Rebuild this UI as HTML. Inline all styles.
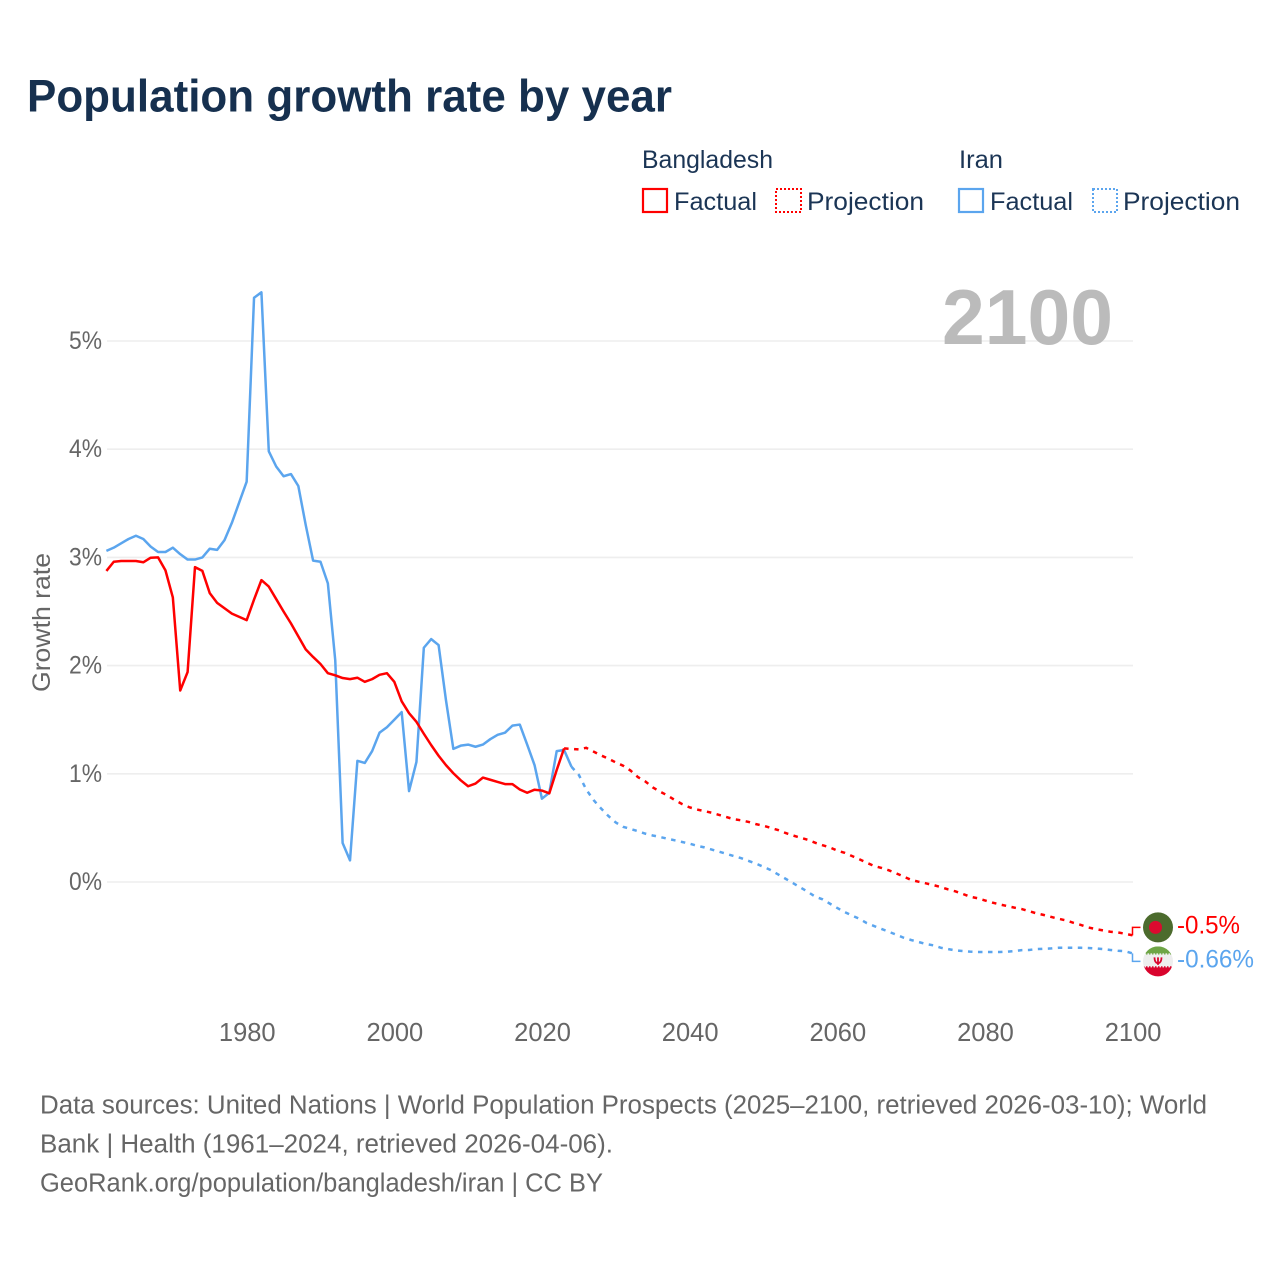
<!DOCTYPE html>
<html lang="en">
<head>
<meta charset="utf-8">
<title>Population growth rate by year</title>
<style>
html,body{margin:0;padding:0;background:#fff;}
svg{display:block;font-family:"Liberation Sans",Arial,sans-serif;}
</style>
</head>
<body>
<svg id="chart" xmlns="http://www.w3.org/2000/svg" width="1280" height="1280" viewBox="0 0 1280 1280">
  <rect x="0" y="0" width="1280" height="1280" fill="#ffffff"/>
  <text x="27" y="111.5" font-size="45" font-weight="bold" fill="#16304f" textLength="645" lengthAdjust="spacingAndGlyphs">Population growth rate by year</text>

  <g font-size="25" fill="#1b3555">
    <text x="642" y="168" textLength="131" lengthAdjust="spacingAndGlyphs">Bangladesh</text>
    <text x="959" y="168" textLength="44" lengthAdjust="spacingAndGlyphs">Iran</text>
    <g>
      <rect x="643" y="189" width="24" height="23" fill="none" stroke="#ff0000" stroke-width="2.2"/>
      <text x="674" y="210" textLength="83" lengthAdjust="spacingAndGlyphs">Factual</text>
    </g>
    <g>
      <rect x="776" y="189" width="25" height="23" fill="none" stroke="#ff0000" stroke-width="2" stroke-dasharray="2 2"/>
      <text x="807" y="210" textLength="117" lengthAdjust="spacingAndGlyphs">Projection</text>
    </g>
    <g>
      <rect x="959" y="189" width="24" height="23" fill="none" stroke="#5ba5ee" stroke-width="2.2"/>
      <text x="990" y="210" textLength="83" lengthAdjust="spacingAndGlyphs">Factual</text>
    </g>
    <g>
      <rect x="1093" y="189" width="24" height="23" fill="none" stroke="#5ba5ee" stroke-width="2" stroke-dasharray="2 2"/>
      <text x="1123" y="210" textLength="117" lengthAdjust="spacingAndGlyphs">Projection</text>
    </g>
  </g>

  <g id="grid"></g>
  <g id="yticks"></g>
  <g id="xticks"></g>
  <text transform="translate(50,692) rotate(-90)" font-size="25" fill="#666666" textLength="139" lengthAdjust="spacingAndGlyphs">Growth rate</text>
  <text x="942" y="344" font-size="78" font-weight="bold" fill="#bbbbbb" textLength="171" lengthAdjust="spacingAndGlyphs">2100</text>

  <g id="series"></g>

  <defs>
    <clipPath id="flag-clip"><circle cx="0" cy="0" r="15"/></clipPath>
  </defs>
  <g id="flag-bd">
    <circle r="15" fill="#4c6b2d"/>
    <circle cx="-2.5" cy="0" r="6.5" fill="#dc0a2f"/>
  </g>
  <g id="flag-ir" clip-path="url(#flag-clip)">
    <rect x="-15" y="-15" width="30" height="7" fill="#6ea546"/>
    <rect x="-15" y="-8" width="30" height="14" fill="#eeeeee"/>
    <rect x="-15" y="6" width="30" height="10" fill="#d9042d"/>
    <line x1="-15" x2="15" y1="-7.5" y2="-7.5" stroke="#6ea546" stroke-width="1.2" stroke-dasharray="1.5 1.5"/>
    <line x1="-15" x2="15" y1="5.5" y2="5.5" stroke="#d9042d" stroke-width="1.2" stroke-dasharray="1.5 1.5"/>
    <path d="M-3.5 -4 Q-3.5 1.5 0 2 Q3.5 1.5 3.5 -4 M0 -4 V3.5" fill="none" stroke="#d9042d" stroke-width="1.8"/>
  </g>
  <g id="endlabels"></g>

  <g font-size="25.5" fill="#666666">
    <text x="40" y="1113.5" textLength="1167" lengthAdjust="spacingAndGlyphs">Data sources: United Nations | World Population Prospects (2025–2100, retrieved 2026-03-10); World</text>
    <text x="40" y="1152.5" textLength="573" lengthAdjust="spacingAndGlyphs">Bank | Health (1961–2024, retrieved 2026-04-06).</text>
    <text x="40" y="1191.5" textLength="563" lengthAdjust="spacingAndGlyphs">GeoRank.org/population/bangladesh/iran | CC BY</text>
  </g>
</svg>
<script>
const yTickValues = [0, 1, 2, 3, 4, 5];
const yTickLabels = ["0%", "1%", "2%", "3%", "4%", "5%"];
const xTickValues = [1980, 2000, 2020, 2040, 2060, 2080, 2100];
const xTickLabels = ["1980", "2000", "2020", "2040", "2060", "2080", "2100"];
const endValueLabels = ["-0.5%", "-0.66%"];

const factualStartYear = 1961;
const bangladeshProjectionStartYear = 2023;
const iranProjectionStartYear = 2024;

const bangladeshFactual = [
  2.875,2.96,2.967,2.967,2.967,2.955,2.997,3.0,2.88,2.63,
  1.77,1.94,2.91,2.875,2.67,2.58,2.53,2.48,2.45,2.42,
  2.61,2.79,2.73,2.615,2.50,2.39,2.27,2.15,2.08,2.015,
  1.93,1.91,1.885,1.875,1.888,1.85,1.875,1.915,1.93,1.85,
  1.67,1.56,1.48,1.37,1.265,1.167,1.08,1.005,0.94,0.885,
  0.91,0.965,0.945,0.925,0.905,0.905,0.855,0.825,0.853,0.845,
  0.82,1.035,1.235
];
const iranFactual = [
  3.06,3.09,3.13,3.17,3.20,3.17,3.10,3.05,3.05,3.09,
  3.03,2.98,2.98,3.0,3.08,3.07,3.16,3.32,3.51,3.70,
  5.40,5.45,3.98,3.84,3.75,3.77,3.66,3.30,2.97,2.96,
  2.76,2.05,0.36,0.20,1.12,1.10,1.21,1.38,1.43,1.50,
  1.57,0.84,1.11,2.165,2.245,2.19,1.68,1.23,1.26,1.27,
  1.25,1.27,1.32,1.36,1.38,1.445,1.455,1.27,1.08,0.77,
  0.825,1.21,1.22,1.065
];
const bangladeshProjection = [
  1.235,1.23,1.225,1.24,1.205,1.17,1.14,1.105,1.075,1.03,
  0.97,0.93,0.875,0.835,0.80,0.757,0.72,0.69,0.67,0.655,
  0.64,0.62,0.60,0.58,0.57,0.555,0.535,0.52,0.50,0.48,
  0.453,0.43,0.41,0.39,0.363,0.34,0.32,0.29,0.27,0.24,
  0.21,0.178,0.148,0.13,0.108,0.08,0.05,0.02,0.003,-0.012,
  -0.028,-0.046,-0.068,-0.086,-0.11,-0.136,-0.15,-0.17,-0.19,-0.207,
  -0.222,-0.237,-0.25,-0.27,-0.29,-0.305,-0.323,-0.34,-0.355,-0.377,
  -0.397,-0.42,-0.435,-0.447,-0.46,-0.466,-0.478,-0.493
];
const iranProjection = [
  1.065,0.99,0.855,0.757,0.68,0.61,0.55,0.51,0.49,0.47,
  0.447,0.43,0.416,0.40,0.385,0.37,0.354,0.335,0.32,0.30,
  0.28,0.26,0.24,0.22,0.195,0.17,0.14,0.11,0.07,0.03,
  -0.01,-0.05,-0.09,-0.135,-0.16,-0.2,-0.24,-0.277,-0.31,-0.34,
  -0.38,-0.407,-0.434,-0.46,-0.487,-0.515,-0.536,-0.554,-0.573,-0.585,
  -0.607,-0.62,-0.632,-0.638,-0.644,-0.647,-0.647,-0.647,-0.647,-0.644,
  -0.638,-0.63,-0.628,-0.62,-0.617,-0.614,-0.608,-0.608,-0.608,-0.608,
  -0.61,-0.614,-0.62,-0.628,-0.635,-0.64,-0.66
];

const SVG_NS = "http://www.w3.org/2000/svg";
const RED = "#ff0000";
const BLUE = "#5ba5ee";
function xScale(year) { return 106.4 + (year - 1961) * 7.382; }
function yScale(value) { return 882 - value * 108.2; }
function make(tag, attrs, parent) {
  const el = document.createElementNS(SVG_NS, tag);
  for (const k in attrs) el.setAttribute(k, attrs[k]);
  parent.appendChild(el);
  return el;
}
function pathFor(values, startYear) {
  return values.map(function (v, i) {
    return (i ? "L" : "M") + xScale(startYear + i).toFixed(2) + " " + yScale(v).toFixed(2);
  }).join(" ");
}

const gridG = document.getElementById("grid");
const yTickG = document.getElementById("yticks");
yTickValues.forEach(function (v, i) {
  const line = make("line", { x1: 107, x2: 1133, y1: yScale(v), y2: yScale(v), stroke: "#eeeeee", "stroke-width": 1.6 }, gridG);
  
  
  const t = make("text", { x: 69, y: yScale(v) + 8, "font-size": 25, fill: "#666666", textLength: 33, lengthAdjust: "spacingAndGlyphs" }, yTickG);
  t.textContent = yTickLabels[i];
  
  
});

const xTickG = document.getElementById("xticks");
xTickValues.forEach(function (v, i) {
  const t = make("text", { x: xScale(v) + 0.6, y: 1041, "text-anchor": "middle", "font-size": 25.5, fill: "#666666" }, xTickG);
  t.textContent = xTickLabels[i];
  
  
});

const seriesG = document.getElementById("series");

const iranFactualLine = make("path", { d: pathFor(iranFactual, factualStartYear), fill: "none", stroke: BLUE, "stroke-width": 2.5, "stroke-linejoin": "round" }, seriesG);



const iranProjectionLine = make("path", { d: pathFor(iranProjection, iranProjectionStartYear), fill: "none", stroke: BLUE, "stroke-width": 2.5, "stroke-dasharray": "4.5 5.5" }, seriesG);



const bangladeshFactualLine = make("path", { d: pathFor(bangladeshFactual, factualStartYear), fill: "none", stroke: RED, "stroke-width": 2.5, "stroke-linejoin": "round" }, seriesG);



const bangladeshProjectionLine = make("path", { d: pathFor(bangladeshProjection, bangladeshProjectionStartYear), fill: "none", stroke: RED, "stroke-width": 2.5, "stroke-dasharray": "4.5 5.5" }, seriesG);



const bdEndY = yScale(bangladeshProjection[bangladeshProjection.length - 1]);
const irEndY = yScale(iranProjection[iranProjection.length - 1]);
const endX = xScale(2100);
const bdLabelY = bdEndY - 8;
const irLabelY = irEndY + 8;

const bdConnector = make("path", { d: "M" + endX + " " + bdEndY + " V" + bdLabelY + " H" + (endX + 8), fill: "none", stroke: RED, "stroke-width": 1.5 }, seriesG);



const irConnector = make("path", { d: "M" + endX + " " + irEndY + " V" + irLabelY + " H" + (endX + 8), fill: "none", stroke: BLUE, "stroke-width": 1.5 }, seriesG);



document.getElementById("flag-bd").setAttribute("transform", "translate(1158," + bdLabelY + ")");
document.getElementById("flag-ir").setAttribute("transform", "translate(1158," + irLabelY + ")");

const endG = document.getElementById("endlabels");
const bdEndLabel = make("text", { x: 1177, y: bdLabelY + 6, "font-size": 25, fill: RED, textLength: 63, lengthAdjust: "spacingAndGlyphs" }, endG);
bdEndLabel.textContent = endValueLabels[0];



const irEndLabel = make("text", { x: 1177, y: irLabelY + 6, "font-size": 25, fill: BLUE, textLength: 77, lengthAdjust: "spacingAndGlyphs" }, endG);
irEndLabel.textContent = endValueLabels[1];


</script>
</body>
</html>
